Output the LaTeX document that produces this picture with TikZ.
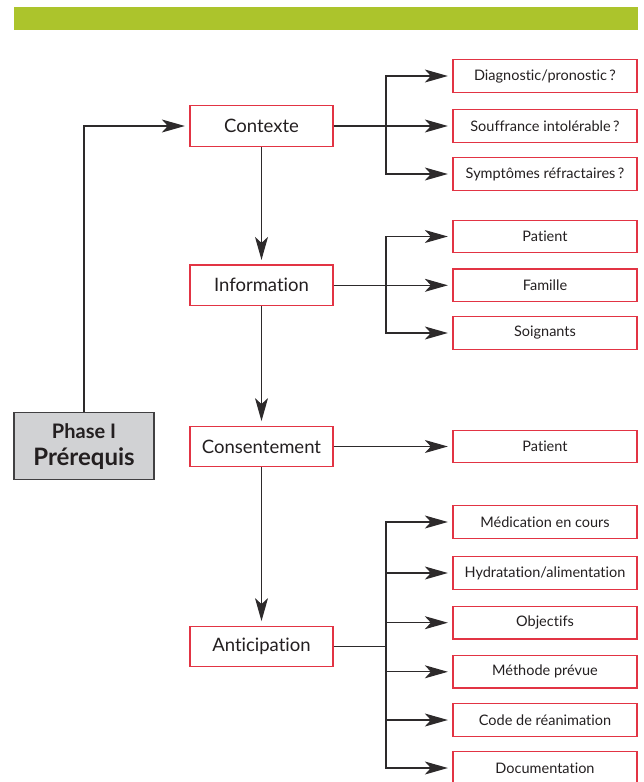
\documentclass[tikz,border=0pt]{standalone}
\usepackage{fontspec}
\setmainfont{Lato}[Ligatures={NoCommon}]
\usetikzlibrary{arrows.meta}
\definecolor{barg}{RGB}{172,196,44}
\definecolor{boxred}{RGB}{226,52,68}
\definecolor{txt}{RGB}{35,31,32}
\definecolor{lin}{RGB}{45,42,43}
\definecolor{phfill}{RGB}{209,210,212}
\definecolor{phdraw}{RGB}{65,64,66}
\begin{document}
\begin{tikzpicture}[x=1pt,y=-1pt,
  mainbox/.style={draw=boxred, line width=1.3pt, minimum width=143pt, minimum height=40.5pt, inner sep=0pt, text=txt, font=\fontsize{18.5}{22}\selectfont},
  subbox/.style={draw=boxred, line width=1.3pt, minimum width=184pt, minimum height=32.5pt, inner sep=0pt, text=txt, font=\fontsize{14.5}{17}\selectfont},
  phasebox/.style={draw=phdraw, fill=phfill, line width=1.3pt, minimum width=140pt, minimum height=67pt, inner sep=0pt, text=txt, align=center, font=\bfseries\fontsize{24}{27}\selectfont},
  conn/.style={draw=lin, line width=1.2pt},
  arr/.style={conn, -{Stealth[length=23pt,width=13pt,inset=6pt]}, shorten >=4.5pt}
]
\useasboundingbox (0,0) rectangle (643,782);
\fill[barg] (14,6.7) rectangle (638,30);

% main column
\node[mainbox] (ctx) at (261.5,126) {Contexte};
\node[mainbox] (info) at (261.5,285.3) {Information};
\node[mainbox] (cons) at (261.5,446.5) {Consentement};
\node[mainbox] (ant) at (261.5,646.5) {Anticipation};

\node[phasebox] (ph) at (84,446.3) {{\fontsize{20}{22}\selectfont Phase I}\\Prérequis};

% right column
\node[subbox] (diag) at (545,76) {Diagnostic/pronostic\,?};
\node[subbox] (souf) at (545,126) {Souffrance intolérable\,?};
\node[subbox] (sym) at (545,174) {Symptômes réfractaires\,?};
\node[subbox] (pat) at (545,236.5) {Patient};
\node[subbox] (fam) at (545,285.3) {Famille};
\node[subbox] (soi) at (545,333) {Soignants};
\node[subbox] (pat2) at (545,446.5) {Patient};
\node[subbox] (med) at (545,522) {Médication en cours};
\node[subbox] (hyd) at (545,573) {Hydratation/alimentation};
\node[subbox] (obj) at (545,622.7) {Objectifs};
\node[subbox] (meth) at (545,671.8) {Méthode prévue};
\node[subbox] (code) at (545,720) {Code de réanimation};
\node[subbox] (doc) at (545,768) {Documentation};

\coordinate (bx) at (386,0);

% phase to contexte
\draw[arr] (ph.north) |- (ctx.west);

% vertical flow
\draw[arr] (ctx.south) -- (info.north);
\draw[arr] (info.south) -- (cons.north);
\draw[arr] (cons.south) -- (ant.north);

% contexte branches
\draw[arr] (ctx.east) -- (souf.west);
\draw[arr] (ctx.east -| bx) |- (diag.west);
\draw[arr] (ctx.east -| bx) |- (sym.west);

% information branches
\draw[arr] (info.east) -- (fam.west);
\draw[arr] (info.east -| bx) |- (pat.west);
\draw[arr] (info.east -| bx) |- (soi.west);

% consentement
\draw[arr] (cons.east) -- (pat2.west);

% anticipation branches
\draw[conn] (ant.east) -- (ant.east -| bx);
\foreach \k in {med,hyd,obj,meth,code,doc}
  \draw[arr] (ant.east -| bx) |- (\k.west);
\end{tikzpicture}
\end{document}
